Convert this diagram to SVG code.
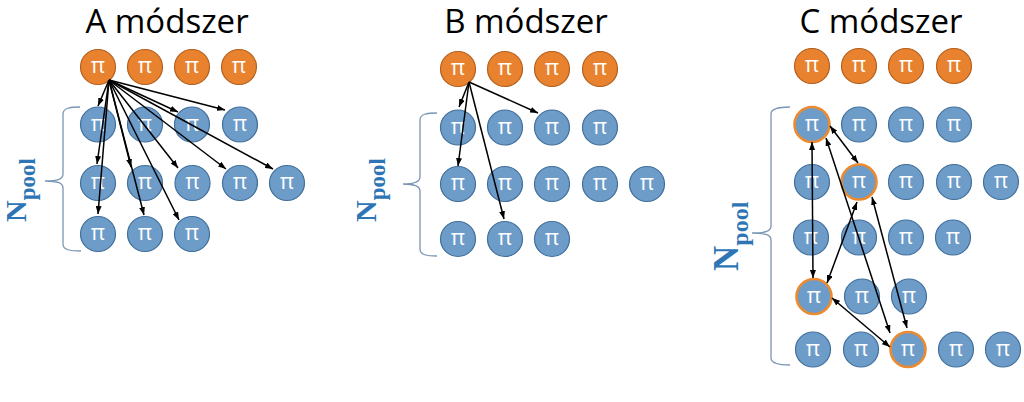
<svg xmlns="http://www.w3.org/2000/svg" width="1024" height="402" viewBox="0 0 1024 402">
<style>
.t{font-family:"Open Sans","Liberation Sans",sans-serif;font-size:33px;fill:#000;text-anchor:middle}
.o{fill:#E8822E;stroke:#B5601E;stroke-width:1.2}
.b{fill:#6E9CC9;stroke:#41709C;stroke-width:1.2}
.h{fill:#6E9CC9;stroke:#EB8A2E;stroke-width:2.6}
.p{font-family:"Open Sans","Liberation Sans",sans-serif;font-size:22px;fill:#fff;text-anchor:middle}
.br{fill:none;stroke:#7A96B4;stroke-width:1.3}
.np{font-family:"Liberation Serif","Times New Roman",serif;font-weight:bold;fill:#2E75B6}
.c line{stroke:#000;stroke-width:1.5;marker-end:url(#ah)}
.c .d{marker-start:url(#ah)}
</style>
<defs>
<marker id="ah" viewBox="0 0 8 6" refX="8" refY="3" markerWidth="8" markerHeight="6" markerUnits="userSpaceOnUse" orient="auto-start-reverse"><path d="M0,0 L8,3 L0,6 z" fill="#000"/></marker>
</defs>

<text class="t" x="167" y="33">A módszer</text>
<text class="t" x="526" y="33">B módszer</text>
<text class="t" x="881" y="33">C módszer</text>

<!-- braces and labels -->
<path class="br" d="M80 107 C70 107 63 108 63 114 L63 174 C63 179 58 181 45 181 C58 181 63 183 63 188 L63 244 C63 250 70 251 81 251"/>
<path class="br" d="M437 113 C427 113 420 114 420 120 L420 177 C420 182 415 184 403 184 C415 184 420 186 420 191 L420 249 C420 255 427 256 437 256"/>
<path class="br" d="M790 107 C780 107 771 108 771 114 L771 226 C771 231 766 233 752 233 C766 233 771 235 771 240 L771 358 C771 364 780 365 790 365"/>
<text class="np" transform="translate(26,222) rotate(-90)" font-size="30">N<tspan font-size="23" dy="9">pool</tspan></text>
<text class="np" transform="translate(376,222) rotate(-90)" font-size="30">N<tspan font-size="23" dy="9">pool</tspan></text>
<text class="np" transform="translate(738,271) rotate(-90)" font-size="35">N<tspan font-size="24" dy="10">pool</tspan></text>

<!-- Panel A nodes -->
<g id="A_o1"><circle class="o" cx="98" cy="67" r="17.5"/><text class="p" x="98" y="73">π</text></g>
<g id="A_o2"><circle class="o" cx="145" cy="67" r="17.5"/><text class="p" x="145" y="73">π</text></g>
<g id="A_o3"><circle class="o" cx="192" cy="67" r="17.5"/><text class="p" x="192" y="73">π</text></g>
<g id="A_o4"><circle class="o" cx="239" cy="67" r="17.5"/><text class="p" x="239" y="73">π</text></g>
<g id="A_r1c1"><circle class="b" cx="98" cy="124.5" r="17.5"/><text class="p" x="98" y="130.5">π</text></g>
<g id="A_r1c2"><circle class="b" cx="145" cy="124.5" r="17.5"/><text class="p" x="145" y="130.5">π</text></g>
<g id="A_r1c3"><circle class="b" cx="192" cy="124.5" r="17.5"/><text class="p" x="192" y="130.5">π</text></g>
<g id="A_r1c4"><circle class="b" cx="240" cy="124.5" r="17.5"/><text class="p" x="240" y="130.5">π</text></g>
<g id="A_r2c1"><circle class="b" cx="98" cy="183" r="17.5"/><text class="p" x="98" y="189">π</text></g>
<g id="A_r2c2"><circle class="b" cx="145" cy="183" r="17.5"/><text class="p" x="145" y="189">π</text></g>
<g id="A_r2c3"><circle class="b" cx="192.5" cy="183" r="17.5"/><text class="p" x="192.5" y="189">π</text></g>
<g id="A_r2c4"><circle class="b" cx="240" cy="183" r="17.5"/><text class="p" x="240" y="189">π</text></g>
<g id="A_r2c5"><circle class="b" cx="287" cy="183" r="17.5"/><text class="p" x="287" y="189">π</text></g>
<g id="A_r3c1"><circle class="b" cx="98" cy="234" r="17.5"/><text class="p" x="98" y="240">π</text></g>
<g id="A_r3c2"><circle class="b" cx="145" cy="234" r="17.5"/><text class="p" x="145" y="240">π</text></g>
<g id="A_r3c3"><circle class="b" cx="192" cy="234" r="17.5"/><text class="p" x="192" y="240">π</text></g>

<!-- Panel B nodes -->
<g id="B_o1"><circle class="o" cx="458" cy="69" r="17.5"/><text class="p" x="458" y="75">π</text></g>
<g id="B_o2"><circle class="o" cx="505" cy="69" r="17.5"/><text class="p" x="505" y="75">π</text></g>
<g id="B_o3"><circle class="o" cx="552" cy="69" r="17.5"/><text class="p" x="552" y="75">π</text></g>
<g id="B_o4"><circle class="o" cx="600" cy="69" r="17.5"/><text class="p" x="600" y="75">π</text></g>
<g id="B_r1c1"><circle class="b" cx="458" cy="127.5" r="17.5"/><text class="p" x="458" y="133.5">π</text></g>
<g id="B_r1c2"><circle class="b" cx="505" cy="127.5" r="17.5"/><text class="p" x="505" y="133.5">π</text></g>
<g id="B_r1c3"><circle class="b" cx="552" cy="127.5" r="17.5"/><text class="p" x="552" y="133.5">π</text></g>
<g id="B_r1c4"><circle class="b" cx="600" cy="127.5" r="17.5"/><text class="p" x="600" y="133.5">π</text></g>
<g id="B_r2c1"><circle class="b" cx="458" cy="184" r="17.5"/><text class="p" x="458" y="190">π</text></g>
<g id="B_r2c2"><circle class="b" cx="505" cy="184" r="17.5"/><text class="p" x="505" y="190">π</text></g>
<g id="B_r2c3"><circle class="b" cx="552" cy="184" r="17.5"/><text class="p" x="552" y="190">π</text></g>
<g id="B_r2c4"><circle class="b" cx="600" cy="184" r="17.5"/><text class="p" x="600" y="190">π</text></g>
<g id="B_r2c5"><circle class="b" cx="647" cy="184" r="17.5"/><text class="p" x="647" y="190">π</text></g>
<g id="B_r3c1"><circle class="b" cx="458" cy="239" r="17.5"/><text class="p" x="458" y="245">π</text></g>
<g id="B_r3c2"><circle class="b" cx="505" cy="239" r="17.5"/><text class="p" x="505" y="245">π</text></g>
<g id="B_r3c3"><circle class="b" cx="552" cy="239" r="17.5"/><text class="p" x="552" y="245">π</text></g>

<!-- Panel C nodes -->
<g id="C_o1"><circle class="o" cx="812" cy="66" r="17.5"/><text class="p" x="812" y="72">π</text></g>
<g id="C_o2"><circle class="o" cx="859" cy="66" r="17.5"/><text class="p" x="859" y="72">π</text></g>
<g id="C_o3"><circle class="o" cx="906" cy="66" r="17.5"/><text class="p" x="906" y="72">π</text></g>
<g id="C_o4"><circle class="o" cx="954" cy="66" r="17.5"/><text class="p" x="954" y="72">π</text></g>
<g id="C_r1c1"><circle class="h" cx="812" cy="124.5" r="17.5"/><text class="p" x="812" y="130.5">π</text></g>
<g id="C_r1c2"><circle class="b" cx="859" cy="124.5" r="17.5"/><text class="p" x="859" y="130.5">π</text></g>
<g id="C_r1c3"><circle class="b" cx="906" cy="124.5" r="17.5"/><text class="p" x="906" y="130.5">π</text></g>
<g id="C_r1c4"><circle class="b" cx="954" cy="124.5" r="17.5"/><text class="p" x="954" y="130.5">π</text></g>
<g id="C_r2c1"><circle class="b" cx="812" cy="182" r="17.5"/><text class="p" x="812" y="188">π</text></g>
<g id="C_r2c2"><circle class="h" cx="859" cy="182" r="17.5"/><text class="p" x="859" y="188">π</text></g>
<g id="C_r2c3"><circle class="b" cx="906" cy="182" r="17.5"/><text class="p" x="906" y="188">π</text></g>
<g id="C_r2c4"><circle class="b" cx="954" cy="182" r="17.5"/><text class="p" x="954" y="188">π</text></g>
<g id="C_r2c5"><circle class="b" cx="1001" cy="182" r="17.5"/><text class="p" x="1001" y="188">π</text></g>
<g id="C_r3c1"><circle class="b" cx="811" cy="237.5" r="17.5"/><text class="p" x="811" y="243.5">π</text></g>
<g id="C_r3c2"><circle class="b" cx="859" cy="237.5" r="17.5"/><text class="p" x="859" y="243.5">π</text></g>
<g id="C_r3c3"><circle class="b" cx="906" cy="237.5" r="17.5"/><text class="p" x="906" y="243.5">π</text></g>
<g id="C_r3c4"><circle class="b" cx="953" cy="237.5" r="17.5"/><text class="p" x="953" y="243.5">π</text></g>
<g id="C_r4c1"><circle class="h" cx="814" cy="296.5" r="17.5"/><text class="p" x="814" y="302.5">π</text></g>
<g id="C_r4c2"><circle class="b" cx="862" cy="296.5" r="17.5"/><text class="p" x="862" y="302.5">π</text></g>
<g id="C_r4c3"><circle class="b" cx="909" cy="296.5" r="17.5"/><text class="p" x="909" y="302.5">π</text></g>
<g id="C_r5c1"><circle class="b" cx="813" cy="349.5" r="17.5"/><text class="p" x="813" y="355.5">π</text></g>
<g id="C_r5c2"><circle class="b" cx="861" cy="349.5" r="17.5"/><text class="p" x="861" y="355.5">π</text></g>
<g id="C_r5c3"><circle class="h" cx="908" cy="349.5" r="17.5"/><text class="p" x="908" y="355.5">π</text></g>
<g id="C_r5c4"><circle class="b" cx="956" cy="349.5" r="17.5"/><text class="p" x="956" y="355.5">π</text></g>
<g id="C_r5c5"><circle class="b" cx="1003" cy="349.5" r="17.5"/><text class="p" x="1003" y="355.5">π</text></g>

<!-- connectors -->
<g id="connectors" class="c">
<line x1="109" y1="80" x2="98" y2="106"/>
<line x1="109" y1="80" x2="97" y2="164"/>
<line x1="109" y1="80" x2="98" y2="214"/>
<line x1="109" y1="80" x2="131" y2="167"/>
<line x1="109" y1="80" x2="144" y2="215"/>
<line x1="109" y1="80" x2="178" y2="112"/>
<line x1="109" y1="80" x2="178" y2="168"/>
<line x1="109" y1="80" x2="179" y2="220"/>
<line x1="109" y1="80" x2="225" y2="110"/>
<line x1="109" y1="80" x2="226" y2="169"/>
<line x1="109" y1="80" x2="273" y2="169"/>
<line x1="469" y1="82" x2="459" y2="107"/>
<line x1="469" y1="82" x2="458" y2="166"/>
<line x1="469" y1="82" x2="504" y2="219"/>
<line x1="469" y1="82" x2="538" y2="113"/>
<line class="d" x1="812" y1="142" x2="813" y2="278"/>
<line class="d" x1="830" y1="126" x2="858" y2="163"/>
<line class="d" x1="826" y1="138" x2="890" y2="333"/>
<line class="d" x1="857" y1="202" x2="827" y2="283"/>
<line class="d" x1="872" y1="197" x2="907" y2="328"/>
<line class="d" x1="832" y1="298" x2="890" y2="347"/>
</g>
</svg>
